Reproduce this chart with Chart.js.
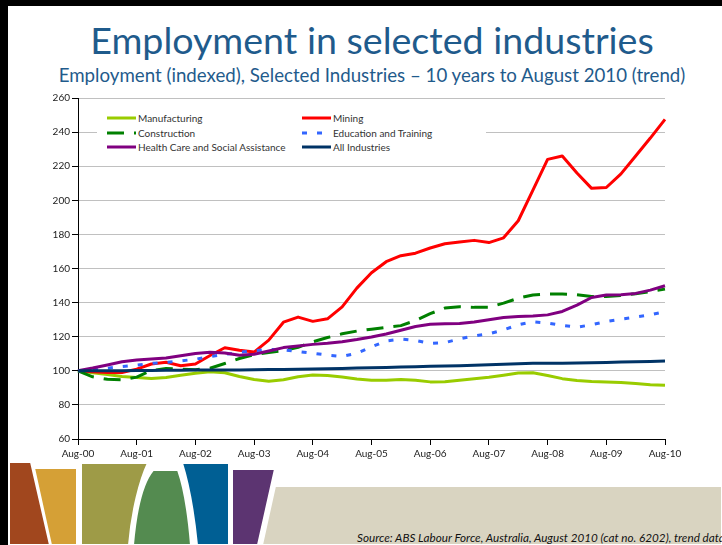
<!DOCTYPE html>
<html>
<head>
<meta charset="utf-8">
<title>Employment in selected industries</title>
<script src="https://cdn.jsdelivr.net/npm/chart.js@4.4.0/dist/chart.umd.min.js"></script>
<style>
  html, body { margin: 0; padding: 0; background: #fff; }
  body { width: 722px; height: 545px; position: relative; overflow: hidden; font-family: Lato, 'Open Sans', sans-serif; }
  .bar-top { position: absolute; left: 0; top: 0; width: 722px; height: 6px; background: #000; z-index: 5; }
  .bar-left { position: absolute; left: 0; top: 0; width: 8px; height: 545px; background: #000; z-index: 5; }
  #deco { position: absolute; left: 0; top: 0; z-index: 0; }
  h1 { position: absolute; left: 0; top: 21px; width: 744px; margin: 0; text-align: center;
       font-weight: normal; font-size: 37.6px; line-height: 38px; color: #1F5B8C; white-space: nowrap; }
  h2 { position: absolute; left: 0; top: 66px; width: 744px; margin: 0; text-align: center;
       font-weight: normal; font-size: 18.7px; line-height: 19px; color: #1F5B8C; white-space: nowrap; }
  #wrap { position: absolute; left: 0; top: 88px; width: 722px; height: 390px; z-index: 2; }
  #legend { position: absolute; left: 97px; top: 108px; width: 379px; height: 45px; background: #fff; z-index: 3;
            padding: 3px 0 0 10px; display: grid; grid-template-columns: 195px 184px; grid-auto-rows: 14.5px;
            font-size: 10px; color: #333; }
  #legend .item { display: flex; align-items: center; white-space: nowrap; }
  #legend svg { width: 29px; height: 6px; margin-right: 2px; flex: none; }
  .source { position: absolute; left: 357px; top: 531px; font-style: italic; font-size: 11.7px; line-height: 12px;
            color: #111; white-space: nowrap; z-index: 1; }
</style>
</head>
<body>
<div class="bar-top"></div>
<div class="bar-left"></div>

<svg id="deco" width="722" height="545">
  <g stroke="#fff" stroke-width="2">
    <path d="M9,462 L31,462 L50,545 L9,545 Z" fill="#A1471E"/>
    <path d="M34,468 L77,468 L77,545 L51,545 Z" fill="#D5A036"/>
    <path d="M81,463 L148,463 C140,480 132,510 129,545 L81,545 Z" fill="#9E9B47"/>
    <path d="M153,470 L178,470 C185,490 189,520 191,545 L133,545 C136,510 143,482 153,470 Z" fill="#548B50"/>
    <path d="M182,463 L229,463 L229,545 L197,545 C194,515 189,485 182,463 Z" fill="#005F94"/>
    <path d="M232,469 L275,469 L258,545 L232,545 Z" fill="#5C3471"/>
    <path d="M275,486 L722,486 L722,545 L262,545 Z" fill="#D9D4C1"/>
  </g>
</svg>

<h1>Employment in selected industries</h1>
<h2>Employment (indexed), Selected Industries – 10 years to August 2010 (trend)</h2>

<div id="wrap"><canvas id="chart"></canvas></div>
<div id="legend"></div>

<div class="source">Source: ABS Labour Force, Australia, August 2010 (cat no. 6202), trend data</div>

<script>
// quarterly trend series, indexed to Aug-00 = 100
const quarters = [
  'Aug-00','Nov-00','Feb-01','May-01','Aug-01','Nov-01','Feb-02','May-02',
  'Aug-02','Nov-02','Feb-03','May-03','Aug-03','Nov-03','Feb-04','May-04',
  'Aug-04','Nov-04','Feb-05','May-05','Aug-05','Nov-05','Feb-06','May-06',
  'Aug-06','Nov-06','Feb-07','May-07','Aug-07','Nov-07','Feb-08','May-08',
  'Aug-08','Nov-08','Feb-09','May-09','Aug-09','Nov-09','Feb-10','May-10',
  'Aug-10'
];

const manufacturing = [100, 98.8, 97.8, 96.6, 96.0, 95.5, 96.1, 97.4, 98.6, 99.4,
  98.9, 96.7, 94.9, 93.9, 94.8, 96.5, 97.5, 97.3, 96.3, 95.2,
  94.5, 94.5, 94.9, 94.4, 93.5, 93.6, 94.5, 95.3, 96.2, 97.4,
  98.7, 98.8, 97.2, 95.4, 94.3, 93.7, 93.5, 93.1, 92.5, 91.8, 91.5];

const mining = [100, 99.5, 99, 99, 101, 104, 105, 103, 104, 109,
  113.5, 112, 111, 118, 128.5, 131.5, 129, 130.5, 137.5, 148.5,
  157.5, 164, 167.5, 169, 172, 174.5, 175.5, 176.5, 175.2, 178,
  188, 206, 224, 226, 216, 207, 207.5, 215.5, 226, 236.5, 247.5];

const construction = [100, 96.5, 95.0, 94.7, 96.3, 100.2, 101.3, 101, 100.6, 101.5,
  104.3, 107.2, 109.5, 110.7, 111.8, 113.8, 117, 119.5, 121.7, 123.3,
  124.4, 125.5, 126.5, 129.5, 133.5, 136.8, 137.6, 137.2, 137.2, 139.7,
  142.6, 144.5, 145, 145, 144.6, 143.6, 143.6, 144.2, 145.2, 146.5, 147.9];

const education = [100, 100.6, 101.5, 102.5, 103.3, 104.3, 105.0, 105.8, 106.8, 108.3,
  109.6, 110.8, 111.8, 112.5, 112.3, 111.3, 110.3, 109.2, 108.4, 110.3,
  114, 117.5, 118.6, 117.8, 116, 116.5, 118.7, 120.5, 121.7, 124,
  127, 128.8, 128, 126.6, 125.6, 127, 128.9, 130.3, 131.5, 132.8, 134.7];

const health = [100, 101.6, 103.4, 105.3, 106.4, 106.9, 107.5, 108.8, 110.2, 110.9,
  110.5, 109.1, 109.7, 111.6, 113.6, 114.6, 115.5, 116.1, 117, 118.3,
  119.8, 121.6, 123.8, 126, 127.3, 127.6, 127.7, 128.6, 130, 131.3,
  131.8, 132.2, 132.8, 134.8, 138.5, 143, 144.5, 144.6, 145.4, 147.3, 149.9];

const allIndustries = [100, 100, 100, 100.1, 100.2, 100.2, 100.3, 100.3, 100.4, 100.4,
  100.5, 100.5, 100.6, 100.7, 100.8, 100.9, 101, 101.2, 101.4, 101.6,
  101.8, 102, 102.2, 102.4, 102.6, 102.8, 103.0, 103.3, 103.6, 103.9,
  104.2, 104.4, 104.5, 104.5, 104.6, 104.7, 104.9, 105.1, 105.3, 105.5, 105.8];

const yTicks = { min: 60, max: 260, step: 20 };

const series = [
  { label: 'Manufacturing', data: manufacturing, color: '#99CC00', dash: [] },
  { label: 'Mining', data: mining, color: '#FF0000', dash: [] },
  { label: 'Construction', data: construction, color: '#008000', dash: [17, 10] },
  { label: 'Education and Training', data: education, color: '#3366FF', dash: [5, 10] },
  { label: 'Health Care and Social Assistance', data: health, color: '#800080', dash: [] },
  { label: 'All Industries', data: allIndustries, color: '#003366', dash: [] }
];

const font = { family: 'Lato, "Open Sans", sans-serif', size: 10 };

const chart = new Chart(document.getElementById('chart'), {
  type: 'line',
  data: {
    labels: quarters,
    datasets: series.map((s, i) => ({
      label: s.label,
      data: s.data,
      borderColor: s.color,
      backgroundColor: s.color,
      borderDash: s.dash,
      borderWidth: 3,
      borderJoinStyle: 'round',
      pointRadius: 0,
      tension: 0,
      fill: false,
      // later series sit on top
      order: series.length - 1 - i
    }))
  },
  options: {
    responsive: true,
    maintainAspectRatio: false,
    animation: false,
    layout: { padding: { top: 10, right: 57, left: 0, bottom: 0 } },
    plugins: { legend: { display: false }, tooltip: { enabled: false } },
    scales: {
      x: {
        offset: false,
        grid: {
          drawOnChartArea: false,
          tickLength: 6,
          tickColor: ctx => (ctx.index % 4 === 0 ? '#000' : 'rgba(0,0,0,0)')
        },
        border: { color: '#000', width: 1 },
        ticks: {
          autoSkip: false,
          maxRotation: 0,
          padding: 3,
          color: '#222',
          font: font,
          callback: (v, i) => (i % 4 === 0 ? quarters[i] : '')
        },
        afterFit: s => { s.height = 39; }
      },
      y: {
        min: yTicks.min,
        max: yTicks.max,
        grid: { color: '#C0C0C0', lineWidth: 1, tickLength: 6, tickColor: '#000' },
        border: { color: '#000', width: 1 },
        ticks: { stepSize: yTicks.step, padding: 2, color: '#222', font: font },
        afterFit: s => { s.width = 78; }
      }
    }
  }
});

// legend: two columns, row by row, same order as the series
const legend = document.getElementById('legend');
chart.data.datasets.forEach(ds => {
  const item = document.createElement('div');
  item.className = 'item';
  const dash = ds.borderDash.length ? ` stroke-dasharray="${ds.borderDash.join(' ')}"` : '';
  item.innerHTML = `<svg viewBox="0 0 29 6"><line x1="0" y1="3" x2="29" y2="3" stroke="${ds.borderColor}" stroke-width="3"${dash}/></svg><span>${ds.label}</span>`;
  legend.appendChild(item);
});
</script>
</body>
</html>
